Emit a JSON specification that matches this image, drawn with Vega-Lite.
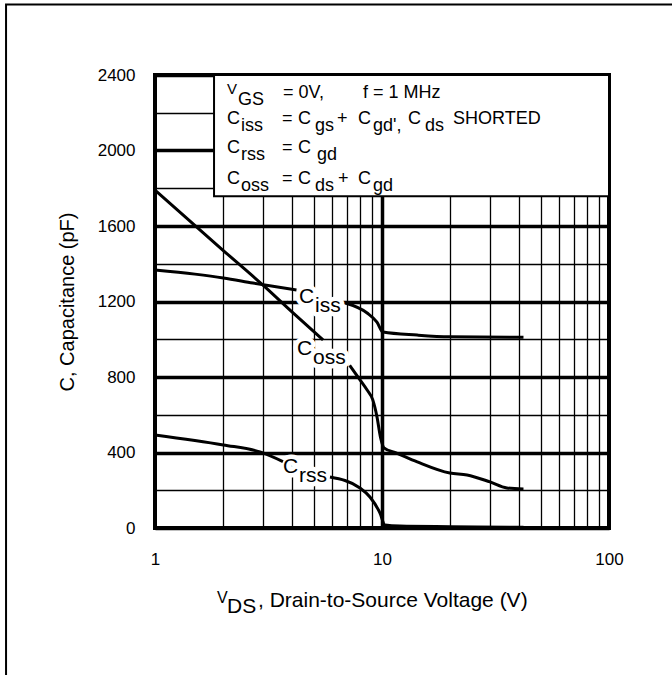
{
  "$schema": "https://vega.github.io/schema/vega-lite/v6.json",
  "width": 454,
  "height": 453,
  "autosize": {"type": "none"},
  "padding": {"left": 155, "top": 75, "right": 63, "bottom": 147},
  "background": "white",
  "resolve": {"axis": {"x": "independent", "y": "independent"}},
  "config": {
    "font": "Liberation Sans",
    "view": {"stroke": "#000", "strokeWidth": 4},
    "axis": {"domain": false, "ticks": false, "tickSize": 0, "labelColor": "#000", "labelFont": "Liberation Sans", "labelFontSize": 17, "gridColor": "#000", "gridOpacity": 1, "titleColor": "#000", "labelOverlap": false, "labelBound": false, "labelFlush": false}
  },
  "datasets": {
    "curves": [
      {"series": "Ciss", "seg": "Ciss-a", "V": 1.0, "C": 1367},
      {"series": "Ciss", "seg": "Ciss-a", "V": 1.5, "C": 1345},
      {"series": "Ciss", "seg": "Ciss-a", "V": 2.0, "C": 1325},
      {"series": "Ciss", "seg": "Ciss-a", "V": 2.7, "C": 1298},
      {"series": "Ciss", "seg": "Ciss-a", "V": 4.2, "C": 1261},
      {"series": "Ciss", "seg": "Ciss-b", "V": 6.9, "C": 1192},
      {"series": "Ciss", "seg": "Ciss-b", "V": 8.6, "C": 1139},
      {"series": "Ciss", "seg": "Ciss-b", "V": 9.5, "C": 1091},
      {"series": "Ciss", "seg": "Ciss-b", "V": 10.1, "C": 1038},
      {"series": "Ciss", "seg": "Ciss-b", "V": 14.3, "C": 1022},
      {"series": "Ciss", "seg": "Ciss-b", "V": 19.9, "C": 1013},
      {"series": "Ciss", "seg": "Ciss-b", "V": 42, "C": 1010},
      {"series": "Coss", "seg": "Coss-a", "V": 1.0, "C": 1790},
      {"series": "Coss", "seg": "Coss-a", "V": 2.0, "C": 1470},
      {"series": "Coss", "seg": "Coss-a", "V": 3.0, "C": 1285},
      {"series": "Coss", "seg": "Coss-a", "V": 4.0, "C": 1146},
      {"series": "Coss", "seg": "Coss-a", "V": 5.5, "C": 996},
      {"series": "Coss", "seg": "Coss-b", "V": 7.2, "C": 862},
      {"series": "Coss", "seg": "Coss-b", "V": 8.0, "C": 785},
      {"series": "Coss", "seg": "Coss-b", "V": 8.6, "C": 731},
      {"series": "Coss", "seg": "Coss-b", "V": 9.1, "C": 680},
      {"series": "Coss", "seg": "Coss-b", "V": 9.5, "C": 590},
      {"series": "Coss", "seg": "Coss-b", "V": 9.85, "C": 480},
      {"series": "Coss", "seg": "Coss-b", "V": 10.2, "C": 425},
      {"series": "Coss", "seg": "Coss-b", "V": 11.6, "C": 397},
      {"series": "Coss", "seg": "Coss-b", "V": 14.3, "C": 350},
      {"series": "Coss", "seg": "Coss-b", "V": 19.9, "C": 291},
      {"series": "Coss", "seg": "Coss-b", "V": 23.7, "C": 281},
      {"series": "Coss", "seg": "Coss-b", "V": 29.9, "C": 244},
      {"series": "Coss", "seg": "Coss-b", "V": 35.5, "C": 212},
      {"series": "Coss", "seg": "Coss-b", "V": 42, "C": 207},
      {"series": "Crss", "seg": "Crss-a", "V": 1.0, "C": 493},
      {"series": "Crss", "seg": "Crss-a", "V": 2.0, "C": 440},
      {"series": "Crss", "seg": "Crss-a", "V": 2.9, "C": 403},
      {"series": "Crss", "seg": "Crss-a", "V": 3.66, "C": 352},
      {"series": "Crss", "seg": "Crss-b", "V": 5.9, "C": 270},
      {"series": "Crss", "seg": "Crss-b", "V": 8.0, "C": 212},
      {"series": "Crss", "seg": "Crss-b", "V": 8.85, "C": 164},
      {"series": "Crss", "seg": "Crss-b", "V": 9.8, "C": 79},
      {"series": "Crss", "seg": "Crss-b", "V": 10.3, "C": 16},
      {"series": "Crss", "seg": "Crss-b", "V": 12, "C": 10},
      {"series": "Crss", "seg": "Crss-b", "V": 20, "C": 7},
      {"series": "Crss", "seg": "Crss-b", "V": 42, "C": 4}
    ],
    "legend": [
      {"t": "V", "x": 2.076, "y": 2278, "k": "v"},
      {"t": "GS", "x": 2.321, "y": 2278, "k": "sub"},
      {"t": "= 0V,", "x": 3.664, "y": 2278, "k": "main"},
      {"t": "f = 1 MHz", "x": 8.248, "y": 2278, "k": "main"},
      {"t": "C", "x": 2.076, "y": 2140, "k": "main"},
      {"t": "iss", "x": 2.392, "y": 2140, "k": "sub"},
      {"t": "=", "x": 3.627, "y": 2140, "k": "main"},
      {"t": "C", "x": 4.265, "y": 2140, "k": "main"},
      {"t": "gs", "x": 5.068, "y": 2140, "k": "sub"},
      {"t": "+", "x": 6.336, "y": 2140, "k": "main"},
      {"t": "C", "x": 7.843, "y": 2140, "k": "main"},
      {"t": "gd',", "x": 9.129, "y": 2140, "k": "sub"},
      {"t": "C", "x": 13.02, "y": 2140, "k": "main"},
      {"t": "ds", "x": 15.47, "y": 2140, "k": "sub"},
      {"t": "SHORTED", "x": 20.55, "y": 2140, "k": "main"},
      {"t": "C", "x": 2.076, "y": 1987, "k": "main"},
      {"t": "rss", "x": 2.392, "y": 1987, "k": "sub"},
      {"t": "=", "x": 3.627, "y": 1987, "k": "main"},
      {"t": "C", "x": 4.265, "y": 1987, "k": "main"},
      {"t": "gd", "x": 5.172, "y": 1987, "k": "sub"},
      {"t": "C", "x": 2.076, "y": 1823, "k": "main"},
      {"t": "oss", "x": 2.392, "y": 1823, "k": "sub"},
      {"t": "=", "x": 3.627, "y": 1823, "k": "main"},
      {"t": "C", "x": 4.265, "y": 1823, "k": "main"},
      {"t": "ds", "x": 5.068, "y": 1823, "k": "sub"},
      {"t": "+", "x": 6.4, "y": 1823, "k": "main"},
      {"t": "C", "x": 7.843, "y": 1823, "k": "main"},
      {"t": "gd", "x": 9.129, "y": 1823, "k": "sub"}
    ],
    "labels": [
      {"c": "C", "s": "iss", "x": 4.31, "y": 1192},
      {"c": "C", "s": "oss", "x": 4.223, "y": 917},
      {"c": "C", "s": "rss", "x": 3.664, "y": 291}
    ],
    "xtitle": [
      {"t": "V", "x": 1.876, "y": -418.5, "k": "v"},
      {"t": "DS", "x": 2.076, "y": -418.5, "k": "sub"},
      {"t": ", Drain-to-Source Voltage (V)", "x": 2.843, "y": -418.5, "k": "main"}
    ]
  },
  "layer": [
    {
      "data": {"name": "labels"},
      "mark": {"type": "text", "align": "left", "baseline": "alphabetic", "fontSize": 21, "color": "white", "stroke": "white", "strokeWidth": 9, "strokeJoin": "round", "font": "Liberation Sans"},
      "encoding": {
        "x": {"field": "x", "type": "quantitative",
          "scale": {"type": "log", "domain": [1, 100], "nice": false},
          "axis": {"orient": "bottom", "title": null, "values": [1,2,3,4,5,6,7,8,9,10,20,30,40,50,60,70,80,90,100],
            "labelExpr": "datum.value === 1 || datum.value === 10 || datum.value === 100 ? datum.label : ''",
            "format": "d", "labelPadding": 23, "grid": true,
            "gridWidth": {"condition": {"test": "datum.value === 10", "value": 3.5}, "value": 1.3}}},
        "y": {"field": "y", "type": "quantitative",
          "scale": {"domain": [0, 2400], "nice": false, "zero": true},
          "axis": {"orient": "left", "title": "C, Capacitance (pF)", "values": [0,200,400,600,800,1000,1200,1400,1600,1800,2000,2200,2400],
            "labelExpr": "datum.value % 400 === 0 ? datum.label : ''",
            "format": "d", "labelPadding": 20, "grid": true,
            "gridWidth": {"condition": {"test": "datum.value % 400 === 0", "value": 3.5}, "value": 1.3},
            "titleFontSize": 20, "titleFontWeight": "normal", "titleFont": "Liberation Sans",
            "titleAngle": -90, "titleX": -81.5, "titleY": 226.5, "titleAlign": "center", "titleBaseline": "alphabetic"}},
        "text": {"field": "c"}
      }
    },
    {
      "data": {"name": "labels"},
      "mark": {"type": "text", "align": "left", "baseline": "alphabetic", "fontSize": 21, "dx": 16, "dy": 9, "color": "white", "stroke": "white", "strokeWidth": 9, "strokeJoin": "round", "font": "Liberation Sans"},
      "encoding": {
        "x": {"field": "x", "type": "quantitative", "axis": null},
        "y": {"field": "y", "type": "quantitative", "axis": null},
        "text": {"field": "s"}
      }
    },
    {
      "data": {"name": "curves"},
      "mark": {"type": "line", "color": "#000", "strokeWidth": 3, "interpolate": "monotone"},
      "encoding": {
        "x": {"field": "V", "type": "quantitative", "axis": null},
        "y": {"field": "C", "type": "quantitative", "axis": null},
        "detail": {"field": "seg", "type": "nominal"}
      }
    },
    {
      "data": {"values": [{}]},
      "mark": {"type": "rect", "fill": "white", "stroke": "#000", "strokeWidth": 2},
      "encoding": {
        "x": {"datum": 1.82, "type": "quantitative", "axis": null},
        "x2": {"datum": 100},
        "y": {"datum": 1758, "type": "quantitative", "axis": null},
        "y2": {"datum": 2400}
      }
    },
    {
      "data": {"name": "legend"},
      "transform": [{"filter": "datum.k === 'main'"}],
      "mark": {"type": "text", "align": "left", "baseline": "alphabetic", "fontSize": 18, "color": "#000", "font": "Liberation Sans"},
      "encoding": {
        "x": {"field": "x", "type": "quantitative", "axis": null},
        "y": {"field": "y", "type": "quantitative", "axis": null},
        "text": {"field": "t"}
      }
    },
    {
      "data": {"name": "legend"},
      "transform": [{"filter": "datum.k === 'sub'"}],
      "mark": {"type": "text", "align": "left", "baseline": "alphabetic", "fontSize": 18, "dy": 7, "color": "#000", "font": "Liberation Sans"},
      "encoding": {
        "x": {"field": "x", "type": "quantitative", "axis": null},
        "y": {"field": "y", "type": "quantitative", "axis": null},
        "text": {"field": "t"}
      }
    },
    {
      "data": {"name": "legend"},
      "transform": [{"filter": "datum.k === 'v'"}],
      "mark": {"type": "text", "align": "left", "baseline": "alphabetic", "fontSize": 15, "dy": -4, "color": "#000", "font": "Liberation Sans"},
      "encoding": {
        "x": {"field": "x", "type": "quantitative", "axis": null},
        "y": {"field": "y", "type": "quantitative", "axis": null},
        "text": {"field": "t"}
      }
    },
    {
      "data": {"name": "labels"},
      "mark": {"type": "text", "align": "left", "baseline": "alphabetic", "fontSize": 21, "color": "#000", "font": "Liberation Sans"},
      "encoding": {
        "x": {"field": "x", "type": "quantitative", "axis": null},
        "y": {"field": "y", "type": "quantitative", "axis": null},
        "text": {"field": "c"}
      }
    },
    {
      "data": {"name": "labels"},
      "mark": {"type": "text", "align": "left", "baseline": "alphabetic", "fontSize": 21, "dx": 16, "dy": 9, "color": "#000", "font": "Liberation Sans"},
      "encoding": {
        "x": {"field": "x", "type": "quantitative", "axis": null},
        "y": {"field": "y", "type": "quantitative", "axis": null},
        "text": {"field": "s"}
      }
    },
    {
      "data": {"name": "xtitle"},
      "transform": [{"filter": "datum.k === 'main'"}],
      "mark": {"type": "text", "align": "left", "baseline": "alphabetic", "fontSize": 21, "color": "#000", "font": "Liberation Sans"},
      "encoding": {
        "x": {"field": "x", "type": "quantitative", "axis": null},
        "y": {"field": "y", "type": "quantitative", "axis": null},
        "text": {"field": "t"}
      }
    },
    {
      "data": {"name": "xtitle"},
      "transform": [{"filter": "datum.k === 'sub'"}],
      "mark": {"type": "text", "align": "left", "baseline": "alphabetic", "fontSize": 21, "dy": 6, "color": "#000", "font": "Liberation Sans"},
      "encoding": {
        "x": {"field": "x", "type": "quantitative", "axis": null},
        "y": {"field": "y", "type": "quantitative", "axis": null},
        "text": {"field": "t"}
      }
    },
    {
      "data": {"name": "xtitle"},
      "transform": [{"filter": "datum.k === 'v'"}],
      "mark": {"type": "text", "align": "left", "baseline": "alphabetic", "fontSize": 16, "dy": -4, "color": "#000", "font": "Liberation Sans"},
      "encoding": {
        "x": {"field": "x", "type": "quantitative", "axis": null},
        "y": {"field": "y", "type": "quantitative", "axis": null},
        "text": {"field": "t"}
      }
    },
    {
      "data": {"values": [{}]},
      "mark": {"type": "rect", "fill": null, "fillOpacity": 0, "stroke": "#000", "strokeWidth": 2},
      "encoding": {
        "x": {"datum": 0.2207, "type": "quantitative", "axis": null},
        "x2": {"datum": 1000},
        "y": {"datum": -3000, "type": "quantitative", "axis": null},
        "y2": {"datum": 2773}
      }
    }
  ]
}
